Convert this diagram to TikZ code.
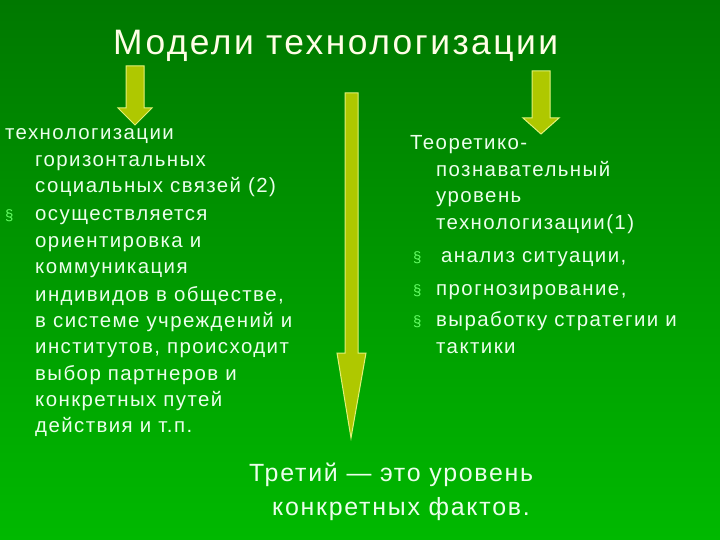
\documentclass[tikz,border=0pt]{standalone}
\usepackage{fontspec}
\setmainfont[LetterSpace=7]{Liberation Sans}
\begin{document}
\begin{tikzpicture}[x=1bp,y=-1bp,
  txt/.style={anchor=base west,inner sep=0pt,text=white!92!green,font=\fontsize{20.5}{22}\selectfont},
  bul/.style={anchor=base west,inner sep=0pt,text=green!60!white,font=\fontsize{15}{18}\selectfont},
  arr/.style={fill={rgb,255:red,175;green,200;blue,0},draw={rgb,255:red,225;green,240;blue,120},line width=1bp}]
\shade[top color={rgb,255:red,0;green,120;blue,0},bottom color={rgb,255:red,0;green,185;blue,0}] (0,0) rectangle (720,540);
\useasboundingbox (0,0) rectangle (720,540);
\node[anchor=base west,inner sep=0pt,text=white!90!yellow,font=\fontsize{35.5}{40}\selectfont] (title) at (113,55) {Модели технологизации};
% arrows
\draw[arr] (126,66)--(144,66)--(144,108)--(152,108)--(135,125)--(118,108)--(126,108)--cycle;
\draw[arr] (532,71)--(550,71)--(550,118)--(559,118)--(541,134)--(523,118)--(532,118)--cycle;
\draw[arr] (345,93)--(358,93)--(358,353)--(366,353)--(351,438)--(337,353)--(345,353)--cycle;
% left text
\node[txt] (l1) at (5,140) {технологизации};
\node[txt] (l2) at (35,167) {горизонтальных};
\node[txt] (l3) at (35,193) {социальных связей (2)};
\node[bul] (b1) at (5,221) {§};
\node[txt] (l4) at (35,221) {осуществляется};
\node[txt] (l5) at (35,248) {ориентировка и};
\node[txt] (l6) at (35,274) {коммуникация};
\node[txt] (l7) at (35,301) {индивидов в обществе,};
\node[txt] (l8) at (35,327) {в системе учреждений и};
\node[txt] (l9) at (35,353) {институтов, происходит};
\node[txt] (l10) at (35,380) {выбор партнеров и};
\node[txt] (l11) at (35,406) {конкретных путей};
\node[txt] (l12) at (35,432) {действия и т.п.};
% right text
\node[txt] (r1) at (410,150) {Теоретико-};
\node[txt] (r2) at (436,177) {познавательный};
\node[txt] (r3) at (436,203) {уровень};
\node[txt] (r4) at (436,230) {технологизации(1)};
\node[bul] (b2) at (413,263) {§};
\node[txt] (r5) at (441,263) {анализ ситуации,};
\node[bul] (b3) at (413,295) {§};
\node[txt] (r6) at (436,295) {прогнозирование,};
\node[bul] (b4) at (413,326) {§};
\node[txt] (r7) at (436,326) {выработку стратегии и};
\node[txt] (r8) at (436,353) {тактики};
% bottom
\node[txt,font=\fontsize{25}{30}\selectfont] (t1) at (249,481) {Третий — это уровень};
\node[txt,font=\fontsize{25}{30}\selectfont] (t2) at (272,515) {конкретных фактов.};
\end{tikzpicture}
\end{document}
